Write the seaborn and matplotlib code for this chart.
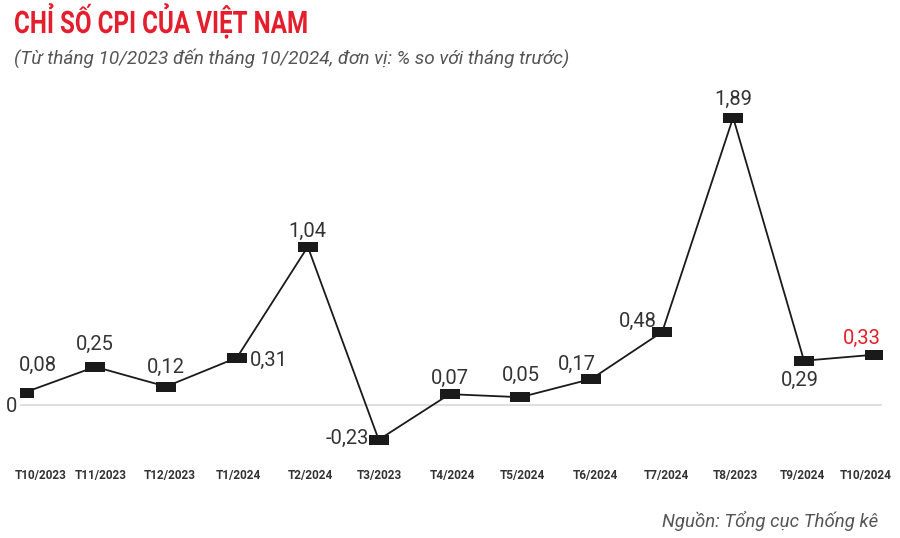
import pandas as pd
import numpy as np
import matplotlib.pyplot as plt
import seaborn as sns
from matplotlib.textpath import TextPath
from matplotlib.patches import PathPatch
from matplotlib.font_manager import FontProperties
from matplotlib.transforms import Affine2D, IdentityTransform

months = ["T10/2023", "T11/2023", "T12/2023", "T1/2024", "T2/2024", "T3/2023", "T4/2024",
          "T5/2024", "T6/2024", "T7/2024", "T8/2023", "T9/2024", "T10/2024"]
cpi = [0.08, 0.25, 0.12, 0.31, 1.04, -0.23, 0.07, 0.05, 0.17, 0.48, 1.89, 0.29, 0.33]

# label offsets in pixels (dx, dy, ha)
label_pos = [(14, 27, "center"), (0, 22, "center"), (0, 19, "center"),
             (13, -3, "left"), (0, 15, "center"), (-10, 1, "right"),
             (0, 16, "center"), (0, 22, "center"), (-14, 15, "center"),
             (-24, 10, "center"), (0, 18, "center"), (-4, -20, "center"),
             (-13, 16, "center")]
# small horizontal shifts of month labels (pixels)
tick_shift = [16, 6, 4, 2, 3, 1, 3, 2, 4, 4, 2, -2, -9]

sns.set_theme(style="white")
plt.rcParams["font.family"] = ["Roboto", "DejaVu Sans"]

df = pd.DataFrame({"x": np.arange(len(months)), "cpi": cpi})

fig = plt.figure(figsize=(9, 5.38), dpi=100)
ax = fig.add_axes([20 / 900, 1 - 458 / 538, 862 / 900, 380 / 538])

rect = [(-1, -0.55), (1, -0.55), (1, 0.55), (-1, 0.55), (-1, -0.55)]
ax.axhline(0, color="#d9d9d9", lw=1.2, zorder=1)
sns.lineplot(data=df, x="x", y="cpi", color="#1a1a1a", lw=1.3, marker=rect, markersize=14,
             markeredgewidth=0, ax=ax, zorder=3)

for i, v in enumerate(cpi):
    dx, dy, ha = label_pos[i]
    col = "#e0202a" if i == len(cpi) - 1 else "#333333"
    ax.annotate(f"{v:.2f}".replace(".", ","), (i, v), xytext=(dx, dy), textcoords="offset pixels",
                ha=ha, va="center", fontsize=14.5, color=col)

# month labels under the plot
for i, m in enumerate(months):
    ax.annotate(m, (i, 0), xycoords=("data", "axes fraction"), xytext=(tick_shift[i], -17),
                textcoords="offset pixels", ha="center", va="center", fontsize=8.5,
                fontweight="bold", color="#333333", annotation_clip=False)

ax.set_xlim(-0.06, 12.1)
ax.set_ylim(-0.35, 2.15)
ax.set_xticks([])
ax.set_yticks([0])
ax.set_yticklabels(["0"], fontsize=14.5, color="#333333")
ax.tick_params(axis="y", length=0, pad=2)
ax.set_xlabel("")
ax.set_ylabel("")
for s in ax.spines.values():
    s.set_visible(False)

# condensed bold title
tp = TextPath((0, 0), "CHỈ SỐ CPI CỦA VIỆT NAM", size=31,
              prop=FontProperties(family="Roboto", weight="bold"))
title_tr = Affine2D().scale(0.78, 1).translate(14, 538 - 33)
fig.add_artist(PathPatch(title_tr.transform_path(tp), facecolor="#e31e2d", edgecolor="none",
                         transform=IdentityTransform()))

fig.text(14 / 900, 1 - 58 / 538, "(Từ tháng 10/2023 đến tháng 10/2024, đơn vị: % so với tháng trước)",
         fontsize=13.7, style="italic", color="#555555", va="center", ha="left")
fig.text(878 / 900, 1 - 521 / 538, "Nguồn: Tổng cục Thống kê", fontsize=13.4, style="italic",
         color="#555555", va="center", ha="right")

fig.savefig("out.png", dpi=100)
